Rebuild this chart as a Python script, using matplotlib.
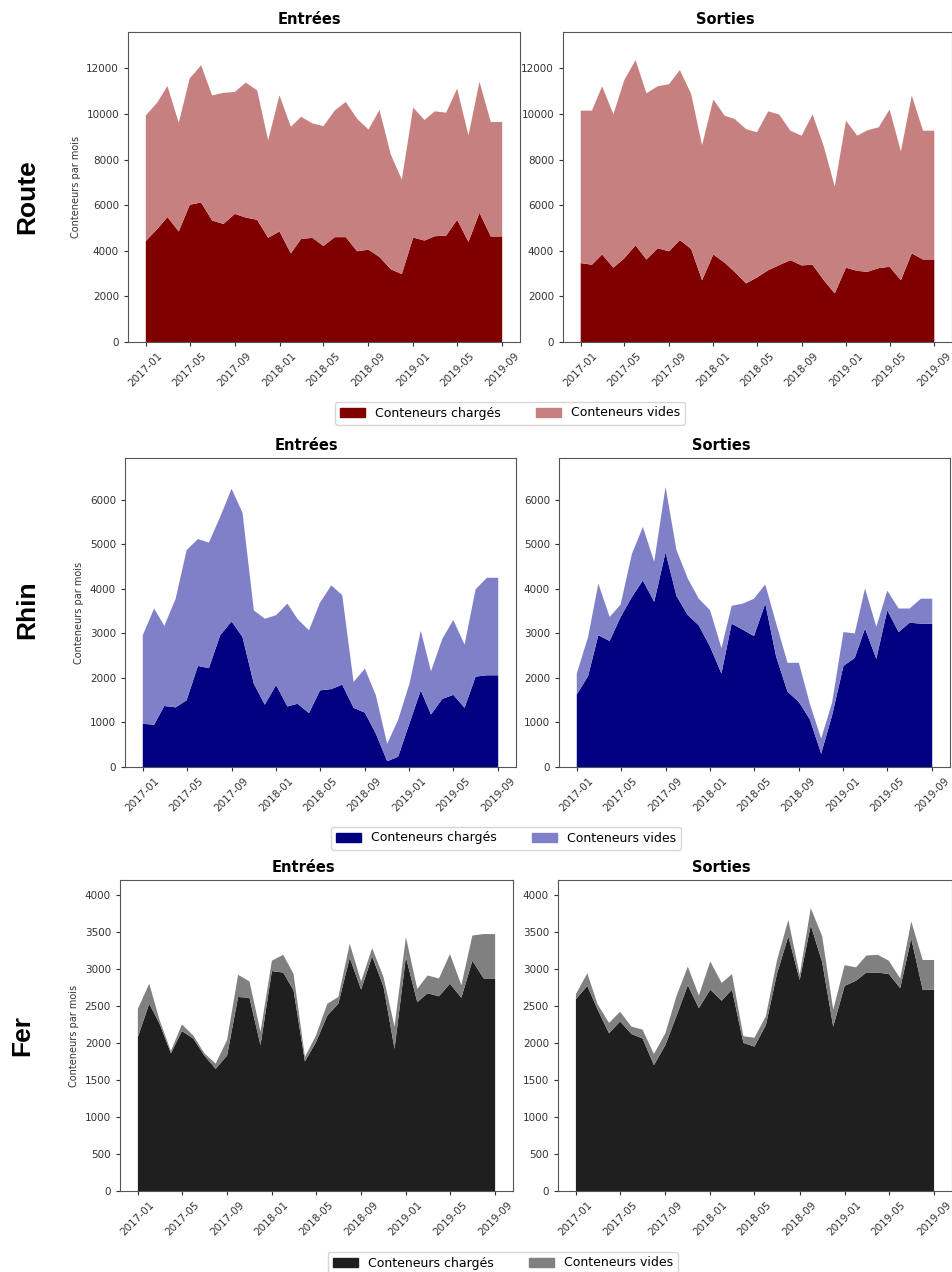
import numpy as np
import pandas as pd
import matplotlib
matplotlib.use('Agg')
import matplotlib.pyplot as plt
import matplotlib.dates as mdates
from matplotlib.patches import Patch

dates = pd.date_range('2017-01-01', periods=33, freq='MS')

# Route (total = chargés + vides)
route_in_total = [9940, 10500, 11230, 9620, 11570, 12140, 10820, 10930, 10970, 11380, 11040,
                  8850, 10820, 9440, 9880, 9590, 9470, 10160, 10530, 9790, 9320, 10180,
                  8220, 7120, 10280, 9740, 10120, 10060, 11120, 9060, 11420, 9650, 9650]
route_in_full = [4430, 4950, 5480, 4850, 6020, 6120, 5330, 5180, 5620, 5460, 5360,
                 4570, 4850, 3890, 4520, 4570, 4210, 4600, 4600, 3980, 4050, 3730,
                 3190, 2980, 4580, 4450, 4640, 4670, 5360, 4390, 5670, 4630, 4630]
route_out_total = [10150, 10150, 11220, 9990, 11490, 12370, 10910, 11220, 11310, 11930, 10880,
                   8630, 10640, 9930, 9780, 9340, 9200, 10120, 9980, 9270, 9050, 9990,
                   8580, 6820, 9710, 9050, 9290, 9420, 10200, 8360, 10810, 9270, 9270]
route_out_full = [3460, 3390, 3840, 3260, 3670, 4240, 3620, 4110, 3980, 4470, 4080,
                  2710, 3840, 3480, 3070, 2570, 2830, 3150, 3370, 3590, 3360, 3390,
                  2710, 2130, 3260, 3120, 3080, 3240, 3300, 2710, 3890, 3620, 3620]

# Rhin
rhin_in_total = [2960, 3560, 3170, 3780, 4870, 5120, 5040, 5620, 6250, 5710, 3520,
                 3330, 3410, 3670, 3320, 3070, 3690, 4080, 3860, 1910, 2210, 1610,
                 520, 1060, 1870, 3060, 2150, 2880, 3300, 2750, 3990, 4250, 4250]
rhin_in_full = [970, 950, 1370, 1340, 1500, 2270, 2220, 2960, 3270, 2920, 1870,
                1400, 1840, 1360, 1420, 1210, 1720, 1750, 1850, 1330, 1220, 750,
                130, 230, 980, 1720, 1180, 1530, 1620, 1330, 2030, 2060, 2060]
rhin_out_total = [2100, 2920, 4120, 3370, 3650, 4790, 5390, 4610, 6290, 4870, 4230,
                  3780, 3520, 2670, 3620, 3670, 3780, 4100, 3220, 2340, 2340, 1420,
                  640, 1450, 3030, 3000, 4010, 3150, 3960, 3560, 3560, 3780, 3780]
rhin_out_full = [1630, 2040, 2960, 2830, 3370, 3820, 4190, 3710, 4820, 3840, 3410,
                 3180, 2700, 2100, 3220, 3080, 2940, 3670, 2470, 1690, 1460, 1070,
                 300, 1160, 2270, 2450, 3110, 2430, 3520, 3030, 3240, 3220, 3220]

# Fer
fer_in_total = [2460, 2800, 2310, 1890, 2250, 2100, 1860, 1720, 2040, 2920, 2830,
                2150, 3110, 3190, 2930, 1810, 2100, 2530, 2620, 3340, 2830, 3280,
                2890, 2220, 3430, 2730, 2910, 2870, 3200, 2780, 3450, 3470, 3470]
fer_in_full = [2080, 2530, 2260, 1860, 2160, 2060, 1830, 1650, 1830, 2620, 2610,
               1970, 2970, 2950, 2710, 1750, 2010, 2370, 2530, 3150, 2720, 3170,
               2760, 1920, 3160, 2550, 2670, 2630, 2800, 2610, 3110, 2870, 2870]
fer_out_total = [2660, 2940, 2520, 2270, 2420, 2220, 2180, 1850, 2130, 2630, 3030,
                 2640, 3100, 2810, 2930, 2090, 2070, 2360, 3110, 3660, 2920, 3820,
                 3440, 2450, 3050, 3020, 3180, 3190, 3110, 2870, 3640, 3120, 3120]
fer_out_full = [2590, 2770, 2450, 2130, 2290, 2120, 2060, 1700, 1970, 2360, 2780,
                2470, 2720, 2570, 2720, 2000, 1950, 2240, 2930, 3440, 2850, 3590,
                3090, 2220, 2770, 2840, 2950, 2950, 2930, 2740, 3410, 2720, 2720]

rows = [
    ('Route', route_in_full, route_in_total, route_out_full, route_out_total,
     '#800000', '#c78080', 13600, 2000),
    ('Rhin', rhin_in_full, rhin_in_total, rhin_out_full, rhin_out_total,
     '#000080', '#8080c8', 6940, 1000),
    ('Fer', fer_in_full, fer_in_total, fer_out_full, fer_out_total,
     '#1f1f1f', '#808080', 4200, 500),
]

W, H = 953, 1272
fig = plt.figure(figsize=(W / 100, H / 100), dpi=100)

# pixel boxes: (left, right, top, bottom)
boxes = [
    [(128, 520, 32, 342), (563, 952, 32, 342)],
    [(125, 516, 458, 767), (559, 950, 458, 767)],
    [(120, 513, 880, 1191), (558, 952, 880, 1191)],
]
title_x = [[0.464, 0.416], [0.465, 0.414], [0.466, 0.414]]
row_label_pos = [(27, 197), (27, 610), (22, 1035)]
legend_pos = [(510, 413), (506, 838), (503, 1263)]

for r, (name, in_full, in_tot, out_full, out_tot, c_full, c_empty, ymax, ystep) in enumerate(rows):
    series = [(in_full, in_tot, 'Entrées'), (out_full, out_tot, 'Sorties')]
    for c, (full, tot, title) in enumerate(series):
        l, rr, t, b = boxes[r][c]
        ax = fig.add_axes([l / W, 1 - b / H, (rr - l) / W, (b - t) / H])
        full = np.array(full)
        empty = np.array(tot) - full
        ax.stackplot(dates, full, empty, colors=[c_full, c_empty])
        ax.set_ylim(0, ymax)
        ax.set_yticks(np.arange(0, ymax, ystep))
        ax.xaxis.set_major_locator(mdates.MonthLocator(bymonth=(1, 5, 9)))
        ax.xaxis.set_major_formatter(mdates.DateFormatter('%Y-%m'))
        ax.tick_params(labelsize=7.5, colors='#333333', length=3)
        for lab in ax.get_xticklabels():
            lab.set_rotation(45)
        ax.set_title(title, fontsize=10.5, fontweight='bold', x=title_x[r][c])
        if c == 0:
            ax.set_ylabel('Conteneurs par mois', fontsize=7, color='#333333')
        for sp in ax.spines.values():
            sp.set_color('#555555')

    x, y = row_label_pos[r]
    fig.text(x / W, 1 - y / H, name, rotation=90, ha='center', va='center',
             fontsize=19, fontweight='bold', family='Liberation Sans')

    handles = [Patch(color=c_full, label='Conteneurs chargés'),
               Patch(color=c_empty, label='Conteneurs vides')]
    lx, ly = legend_pos[r]
    fig.legend(handles=handles, loc='center', bbox_to_anchor=(lx / W, 1 - ly / H),
               ncol=2, fontsize=9, frameon=True, columnspacing=2.8)

plt.savefig('out.png', dpi=100)
